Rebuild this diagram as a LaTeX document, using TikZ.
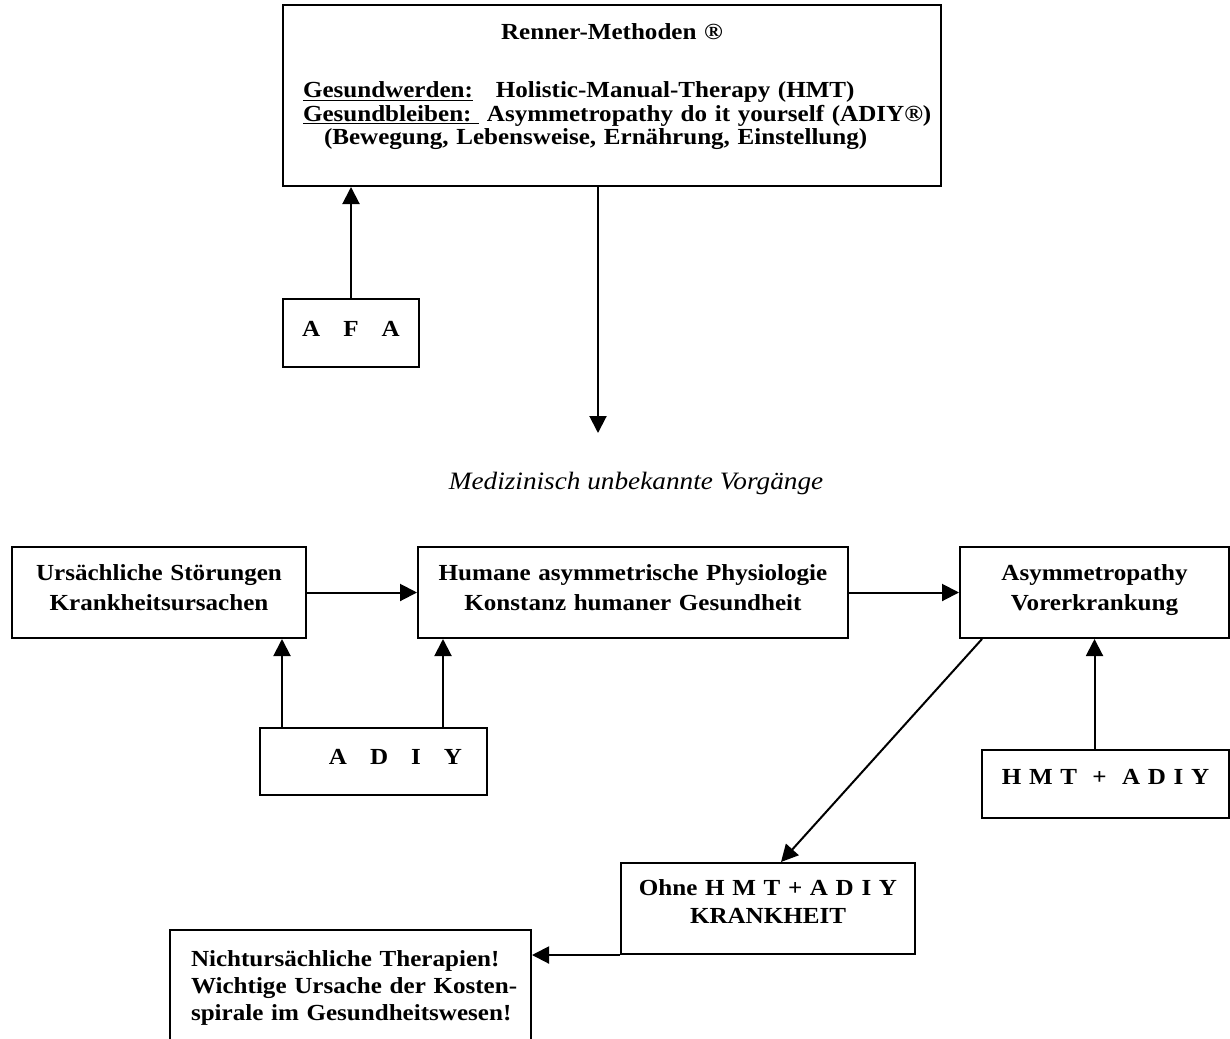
\documentclass[tikz,border=0pt]{standalone}
\usepackage{fontspec}
\setmainfont{Liberation Serif}[FakeStretch=1.09]
\usetikzlibrary{arrows.meta,positioning,calc}

\begin{document}
\begin{tikzpicture}[
    x=1pt, y=-1pt,
    box/.style={draw, line width=2pt, inner sep=0pt, align=center, anchor=north west, font=\bfseries\fontsize{23}{30}\selectfont},
    arrow/.style={-{Triangle[length=17pt,width=17pt]}, line width=2pt},
    note/.style={font=\itshape\fontsize{25}{30}\selectfont}
  ]
    \useasboundingbox (0,0) rectangle (1230,1038);
    \clip (0,0) rectangle (1230,1038);

    \node[box, text width=658pt, text height=35pt, text depth=146pt, font=\bfseries\fontsize{23}{23.5}\selectfont] (renner) at (282,4) {Renner-Methoden ®\\[34.5pt]
      \makebox[618pt][l]{\underline{Gesundwerden:}\hspace{23pt}Holistic-Manual-Therapy (HMT)}\\
      \makebox[618pt][l]{\underline{Gesundbleiben:\ }\ Asymmetropathy do it yourself (ADIY®)}\\
      \makebox[618pt][l]{\hspace*{21pt}(Bewegung, Lebensweise, Ernährung, Einstellung)}};
    \node[box, text width=136pt, text height=37pt, text depth=31pt] (afa) at (282,298) {A~~~F~~~A};
    \coordinate (downtip) at (598,433);
    \node[note] (vorgaenge) at (636,483) {Medizinisch unbekannte Vorgänge};

    \node[box, text width=294pt, text height=33pt, text depth=58pt] (ursa) at (11,546) {Ursächliche Störungen\\Krankheitsursachen};
    \node[box, text width=430pt, text height=33pt, text depth=58pt] (humane) at (417,546) {Humane asymmetrische Physiologie\\Konstanz humaner Gesundheit};
    \node[box, text width=269pt, text height=33pt, text depth=58pt] (asym) at (959,546) {Asymmetropathy\\Vorerkrankung};
    \node[box, text width=227pt, text height=36pt, text depth=31pt] (adiy) at (259,727) {\hspace*{44pt}A~~~D~~~I~~~Y};
    \node[box, text width=247pt, text height=34pt, text depth=34pt] (hmt) at (981,749) {H M T~~+~~A D I Y};
    \node[box, text width=294pt, text height=32pt, text depth=59pt, font=\bfseries\fontsize{23}{28}\selectfont] (ohne) at (620,862) {Ohne H M T + A D I Y\\KRANKHEIT};
    \node[box, text width=361pt, text height=36pt, text depth=95pt, align=left, font=\bfseries\fontsize{23}{27}\selectfont] (nicht) at (169,929) {\hspace*{21pt}Nichtursächliche Therapien!\\\hspace*{21pt}Wichtige Ursache der Kosten-\\\hspace*{21pt}spirale im Gesundheitswesen!};

    \coordinate (adiyleft) at ([xshift=23pt]adiy.north west);
    \coordinate (adiyright) at ([xshift=-45pt]adiy.north east);

    \draw[arrow] (afa.north) -- (afa.north |- renner.south);
    \draw[arrow] (downtip |- renner.south) -- (downtip);
    \draw[arrow] (ursa) -- (humane);
    \draw[arrow] (humane) -- (asym);
    \draw[arrow] (adiyleft) -- (adiyleft |- ursa.south);
    \draw[arrow] (adiyright) -- (adiyright |- humane.south);
    \draw[arrow] (hmt.north -| asym.south) -- (asym.south);
    \draw[arrow] ([xshift=23pt]asym.south west) -- ([xshift=13pt]ohne.north);
    \draw[arrow] (ohne.south west) -- (ohne.south west -| nicht.east);
\end{tikzpicture}
\end{document}
